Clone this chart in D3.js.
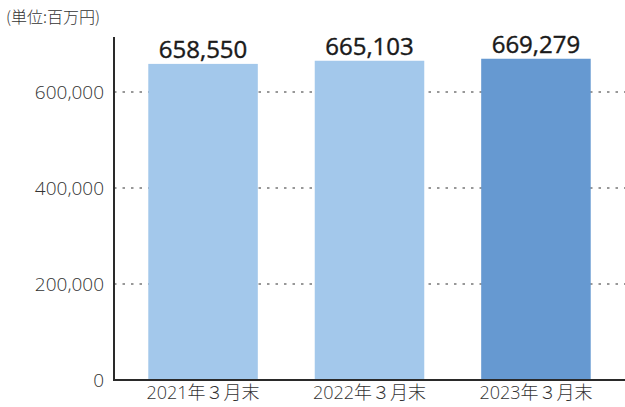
<!DOCTYPE html>
<html>
<head>
<meta charset="utf-8">
<script src="https://cdn.jsdelivr.net/npm/d3@7"></script>
<style>
  body { margin: 0; background: #fff; }
  svg { display: block; font-family: "Open Sans", "Noto Sans CJK JP", sans-serif; }
</style>
</head>
<body>
<svg id="chart"></svg>
<script>
// data
const categories = ['2021年３月末', '2022年３月末', '2023年３月末'];
const values = [658550, 665103, 669279];
const barColors = ['#a3c8eb', '#a3c8eb', '#6699d1'];
const yTicks = [0, 200000, 400000, 600000];
const unitLabel = '(単位:百万円)';

const width = 625, height = 407;
const marginLeft = 114, marginBottom = 27, marginTop = 37;

const svg = d3.select('#chart')
  .attr('width', width)
  .attr('height', height)
  .attr('viewBox', [0, 0, width, height]);

const x = d3.scaleBand()
  .domain(categories)
  .range([marginLeft + 1, width - 1])
  .paddingInner(0.342)
  .paddingOuter(0.2);

const y = d3.scaleLinear()
  .domain([0, 200000])
  .range([height - marginBottom, height - marginBottom - 96]);

// dotted gridlines (behind bars)
svg.append('g')
  .selectAll('line')
  .data(yTicks.filter(d => d > 0))
  .join('line')
  .attr('x1', marginLeft)
  .attr('x2', width)
  .attr('y1', d => y(d))
  .attr('y2', d => y(d))
  .attr('stroke', '#777')
  .attr('stroke-width', 1.3)
  .attr('stroke-dasharray', '2.5,6');

// bars
svg.append('g')
  .selectAll('rect')
  .data(values)
  .join('rect')
  .attr('x', (d, i) => x(categories[i]))
  .attr('y', d => y(d))
  .attr('width', x.bandwidth())
  .attr('height', d => y(0) - y(d))
  .attr('fill', (d, i) => barColors[i]);

// value labels
svg.append('g')
  .selectAll('text')
  .data(values)
  .join('text')
  .attr('x', (d, i) => x(categories[i]) + x.bandwidth() / 2)
  .attr('y', d => y(d) - 6)
  .attr('text-anchor', 'middle')
  .style('font-size', '24px')
  .style('font-weight', 500)
  .attr('fill', '#1a1a1a')
  .attr('stroke', '#1a1a1a')
  .attr('stroke-width', 0.4)
  .text(d => d3.format(',')(d));

// y axis
const yAxis = svg.append('g')
  .attr('transform', `translate(${marginLeft},0)`)
  .call(d3.axisLeft(y).tickValues(yTicks).tickSize(0).tickPadding(10).tickFormat(d3.format(',')));
yAxis.select('.domain').remove();
yAxis.selectAll('text')
  .style('font-size', '19px')
  .style('font-weight', 300)
  .attr('dy', '0.35em')
  .attr('fill', '#333')
  .style('font-family', '"Open Sans", sans-serif');

svg.append('line')
  .attr('x1', marginLeft).attr('x2', marginLeft)
  .attr('y1', marginTop).attr('y2', y(0) + 1)
  .attr('stroke', '#2a2a2a').attr('stroke-width', 2);

// x axis
const xAxis = svg.append('g')
  .attr('transform', `translate(0,${y(0)})`)
  .call(d3.axisBottom(x).tickSize(0).tickPadding(6));
xAxis.select('.domain').remove();
xAxis.selectAll('text')
  .style('font-size', '18px')
  .style('font-weight', 300)
  .attr('fill', '#333')
  .style('font-family', '"Open Sans", "Noto Sans CJK JP", sans-serif');

svg.append('line')
  .attr('x1', marginLeft - 1).attr('x2', width)
  .attr('y1', y(0)).attr('y2', y(0))
  .attr('stroke', '#2a2a2a').attr('stroke-width', 2);

// unit
svg.append('text')
  .attr('x', 6).attr('y', 23)
  .style('font-size', '16px')
  .style('font-weight', 300)
  .attr('fill', '#333')
  .style('font-family', '"Noto Sans CJK JP", sans-serif')
  .text(unitLabel);
</script>
</body>
</html>
